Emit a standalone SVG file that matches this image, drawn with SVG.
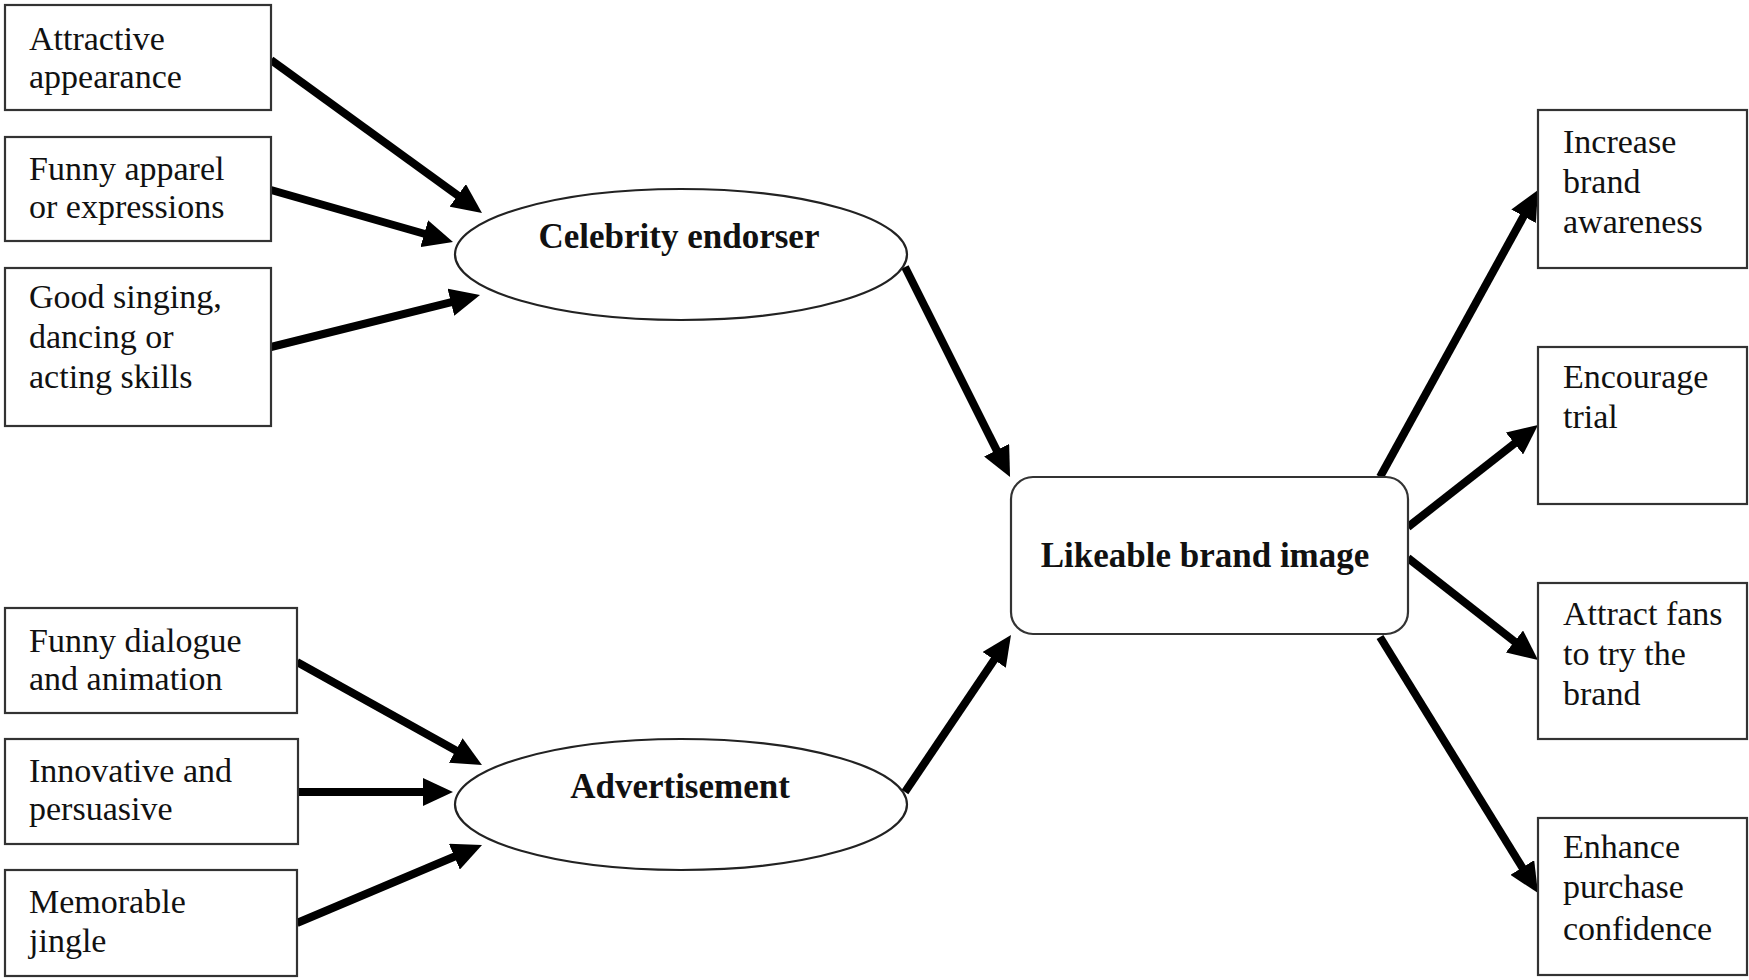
<svg xmlns="http://www.w3.org/2000/svg" width="1749" height="980" viewBox="0 0 1749 980">
<style>
.box{fill:#fff;stroke:#333;stroke-width:2.2}
.ell{fill:#fff;stroke:#222;stroke-width:2.2}
.t{font-family:"Liberation Serif","Times New Roman",serif;font-size:34px;fill:#111}
.b{font-family:"Liberation Serif","Times New Roman",serif;font-size:35px;font-weight:bold;fill:#111;text-anchor:middle}
.ar{stroke:#000;stroke-width:8;fill:none;marker-end:url(#ah)}
</style>
<defs>
<marker id="ah" markerUnits="userSpaceOnUse" markerWidth="30" markerHeight="28" refX="10" refY="14" orient="auto">
<path d="M0,0 L30,14 L0,28 z" fill="#000"/>
</marker>
</defs>
<rect width="1749" height="980" fill="#fff"/>
<g id="connectors">
<line class="ar" x1="271" y1="60" x2="465.8" y2="201.3"/>
<line class="ar" x1="271" y1="190" x2="433.8" y2="236.5"/>
<line class="ar" x1="271" y1="347" x2="460.6" y2="299.8"/>
<line class="ar" x1="297" y1="662" x2="464.5" y2="755.3"/>
<line class="ar" x1="298" y1="792" x2="433" y2="792"/>
<line class="ar" x1="297" y1="923" x2="463.6" y2="852.8"/>
<line class="ar" x1="905" y1="267" x2="1001.1" y2="459.1"/>
<line class="ar" x1="905" y1="792" x2="999.8" y2="651.6"/>
<line class="ar" x1="1380" y1="477" x2="1528.4" y2="207.5"/>
<line class="ar" x1="1408" y1="527" x2="1522.3" y2="437.3"/>
<line class="ar" x1="1408" y1="558" x2="1522.3" y2="647.7"/>
<line class="ar" x1="1380" y1="637" x2="1527.5" y2="876"/>
</g>
<g id="attractive">
<rect class="box" x="5" y="5" width="266" height="105"/>
<text class="t" x="29" y="50">Attractive</text>
<text class="t" x="29" y="88">appearance</text>
</g>
<g id="funny-apparel">
<rect class="box" x="5" y="137" width="266" height="104"/>
<text class="t" x="29" y="180">Funny apparel</text>
<text class="t" x="29" y="218">or expressions</text>
</g>
<g id="good-singing">
<rect class="box" x="5" y="268" width="266" height="158"/>
<text class="t" x="29" y="308">Good singing,</text>
<text class="t" x="29" y="348">dancing or</text>
<text class="t" x="29" y="388">acting skills</text>
</g>
<g id="funny-dialogue">
<rect class="box" x="5" y="608" width="292" height="105"/>
<text class="t" x="29" y="652">Funny dialogue</text>
<text class="t" x="29" y="690">and animation</text>
</g>
<g id="innovative">
<rect class="box" x="5" y="739" width="293" height="105"/>
<text class="t" x="29" y="782">Innovative and</text>
<text class="t" x="29" y="820">persuasive</text>
</g>
<g id="memorable">
<rect class="box" x="5" y="870" width="292" height="106"/>
<text class="t" x="29" y="913">Memorable</text>
<text class="t" x="29" y="952">jingle</text>
</g>
<g id="celebrity">
<ellipse class="ell" cx="681" cy="254.5" rx="226" ry="65.5"/>
<text class="b" x="679" y="248">Celebrity endorser</text>
</g>
<g id="advertisement">
<ellipse class="ell" cx="681" cy="804.5" rx="226" ry="65.5"/>
<text class="b" x="680" y="798">Advertisement</text>
</g>
<g id="likeable">
<rect class="box" x="1011" y="477" width="397" height="157" rx="22" ry="22"/>
<text class="b" x="1205" y="567">Likeable brand image</text>
</g>
<g id="increase">
<rect class="box" x="1538" y="110" width="209" height="158"/>
<text class="t" x="1563" y="153">Increase</text>
<text class="t" x="1563" y="193">brand</text>
<text class="t" x="1563" y="233">awareness</text>
</g>
<g id="encourage">
<rect class="box" x="1538" y="347" width="209" height="157"/>
<text class="t" x="1563" y="388">Encourage</text>
<text class="t" x="1563" y="428">trial</text>
</g>
<g id="attract">
<rect class="box" x="1538" y="583" width="209" height="156"/>
<text class="t" x="1563" y="625">Attract fans</text>
<text class="t" x="1563" y="665">to try the</text>
<text class="t" x="1563" y="705">brand</text>
</g>
<g id="enhance">
<rect class="box" x="1538" y="818" width="209" height="157"/>
<text class="t" x="1563" y="858">Enhance</text>
<text class="t" x="1563" y="898">purchase</text>
<text class="t" x="1563" y="940">confidence</text>
</g>
</svg>
